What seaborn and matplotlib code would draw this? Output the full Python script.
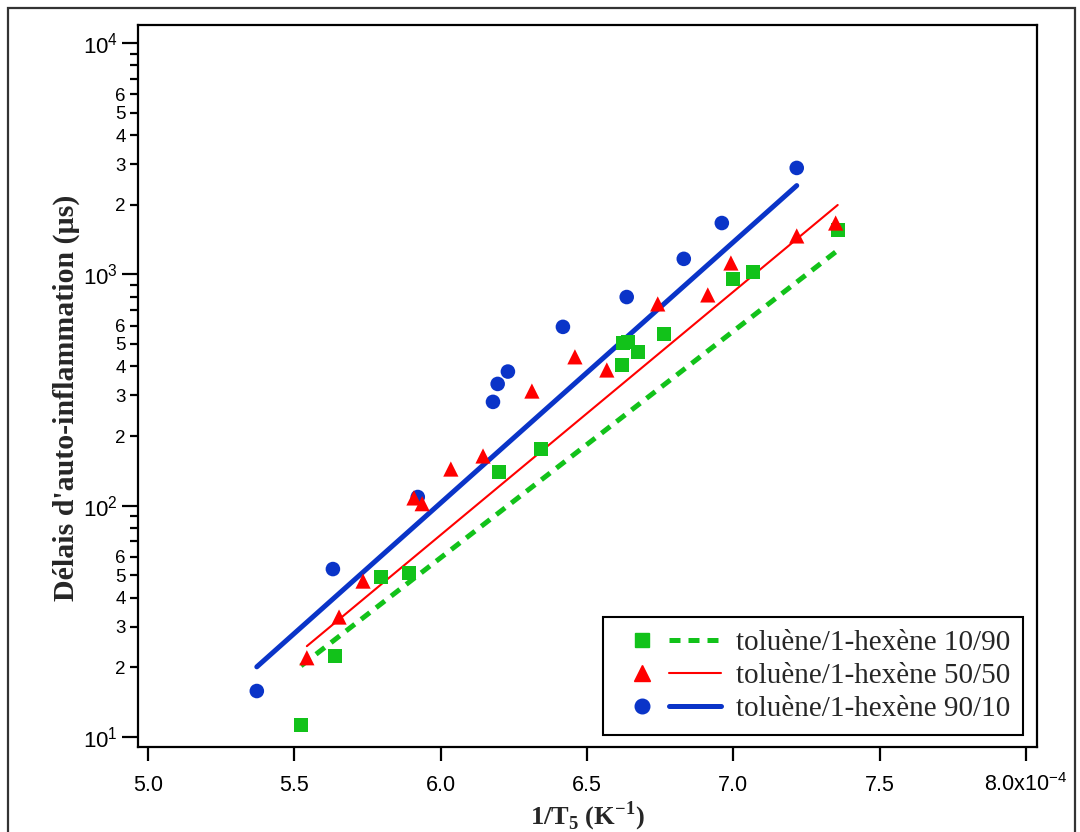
import numpy as np
import pandas as pd
import matplotlib
matplotlib.use("Agg")
import matplotlib.pyplot as plt
import matplotlib.patches as patches
from matplotlib.legend_handler import HandlerTuple
from matplotlib.lines import Line2D
import seaborn as sns

# --- Data (x in 1e-4 K^-1, delay in microseconds) ---
labels = ["toluène/1-hexène 10/90", "toluène/1-hexène 50/50", "toluène/1-hexène 90/10"]

green_x = [5.523, 5.639, 5.796, 5.892, 6.199, 6.343, 6.619, 6.623, 6.640, 6.674, 6.763, 6.999, 7.067, 7.357]
green_y = [11.3, 22.4, 49.2, 51.2, 140, 176, 406, 505, 510, 463, 552, 955, 1024, 1556]

red_x = [5.543, 5.653, 5.735, 5.909, 5.937, 6.035, 6.145, 6.312, 6.459, 6.568, 6.742, 6.913, 6.992, 7.217, 7.350]
red_y = [22.0, 33.0, 47.2, 108, 102, 144, 164, 313, 440, 386, 745, 815, 1120, 1466, 1667]

blue_x = [5.372, 5.632, 5.922, 6.179, 6.195, 6.230, 6.418, 6.636, 6.831, 6.961, 7.217]
blue_y = [15.8, 53.2, 109, 281, 336, 380, 593, 798, 1167, 1667, 2885]

# Arrhenius fit lines (end points)
green_fit_x = [5.523, 7.357]
green_fit_y = [20.3, 1270]
red_fit_x = [5.543, 7.357]
red_fit_y = [24.7, 1995]
blue_fit_x = [5.372, 7.217]
blue_fit_y = [20.1, 2420]

x_ticks = [5.0, 5.5, 6.0, 6.5, 7.0, 7.5, 8.0]
x_ticklabels = ["5.0", "5.5", "6.0", "6.5", "7.0", "7.5", "8.0x10$^{\\mathregular{-4}}$"]

GREEN = "#12C21A"
RED = "#FF0000"
BLUE = "#0A34C8"

sns.set_theme(style="ticks")
plt.rcParams["font.family"] = ["Liberation Sans", "DejaVu Sans"]
plt.rcParams["axes.linewidth"] = 1.6
plt.rcParams["xtick.major.width"] = 1.6
plt.rcParams["ytick.major.width"] = 1.6
plt.rcParams["ytick.minor.width"] = 1.6
plt.rcParams["xtick.color"] = "black"
plt.rcParams["ytick.color"] = "black"

fig = plt.figure(figsize=(10.8, 8.32), dpi=100)
ax = fig.add_axes([138 / 1080, 1 - 747 / 832, (1037 - 138) / 1080, (747 - 25) / 832])

# fit lines
sns.lineplot(x=green_fit_x, y=green_fit_y, ax=ax, color=GREEN, linewidth=3.6,
             linestyle=(0, (2.2, 1.6)), dash_capstyle="butt")
sns.lineplot(x=red_fit_x, y=red_fit_y, ax=ax, color=RED, linewidth=1.5)
sns.lineplot(x=blue_fit_x, y=blue_fit_y, ax=ax, color=BLUE, linewidth=3.6)

# measured points
sns.scatterplot(x=green_x, y=green_y, ax=ax, marker="s", s=100, color=GREEN, edgecolor="none", zorder=3)
sns.scatterplot(x=blue_x, y=blue_y, ax=ax, marker="o", s=110, color=BLUE, edgecolor="none", zorder=3)
sns.scatterplot(x=red_x, y=red_y, ax=ax, marker="^", s=120, color=RED, edgecolor="none", zorder=4)

ax.set_yscale("log")
ax.set_xlim(4.966, 8.038)
ax.set_ylim(9.05, 11970)

# x ticks
ax.set_xticks(x_ticks)
ax.set_xticklabels(x_ticklabels)
ax.tick_params(axis="x", which="major", direction="out", length=10, labelsize=15.5, pad=22)
ax.tick_params(axis="x", which="minor", bottom=False)
for lbl in ax.get_xticklabels():
    lbl.set_verticalalignment("baseline")

# y ticks: decades + minor 2..9, labels only on 2..6
major_y = [10, 100, 1000, 10000]
ax.set_yticks(major_y)
ax.set_yticklabels(["10$^{\\mathregular{%d}}$" % int(np.log10(v)) for v in major_y])
minor_y = []
minor_lab = []
for dec in [10, 100, 1000]:
    for m in range(2, 10):
        minor_y.append(m * dec)
        minor_lab.append(str(m) if m <= 6 else "")
ax.set_yticks(minor_y, minor=True)
ax.set_yticklabels(minor_lab, minor=True)
ax.tick_params(axis="y", which="major", direction="out", length=11.5, labelsize=16, pad=3)
ax.tick_params(axis="y", which="minor", direction="out", length=6, labelsize=13.5, pad=3)

ax.set_xlabel("1/T$_\\mathregular{5}$ (K$^\\mathregular{-1}$)", family="Liberation Serif",
              fontweight="bold", fontsize=19)
ax.xaxis.set_label_coords(0.5, (747 - 800) / 722)
ax.xaxis.label.set_verticalalignment("top")
ax.set_ylabel("Délais d'auto-inflammation (µs)", family="Liberation Serif",
              fontweight="bold", fontsize=21.5)
ax.yaxis.set_label_coords((80 - 138) / 899, 0.483)

for sp in ax.spines.values():
    sp.set_visible(True)
    sp.set_color("black")

# legend: marker + line on one row
handles = [
    (Line2D([], [], marker="s", color=GREEN, linestyle="none", markersize=10),
     Line2D([], [], color=GREEN, linewidth=3.6, linestyle=(0, (2.2, 1.6)), dash_capstyle="butt")),
    (Line2D([], [], marker="^", color=RED, linestyle="none", markersize=11),
     Line2D([], [], color=RED, linewidth=1.5)),
    (Line2D([], [], marker="o", color=BLUE, linestyle="none", markersize=10.5),
     Line2D([], [], color=BLUE, linewidth=3.6)),
]
leg = ax.legend(handles, labels, handler_map={tuple: HandlerTuple(ndivide=None, pad=0)},
                loc="lower right", bbox_to_anchor=(1023 / 1080, 1 - 735 / 832),
                bbox_transform=fig.transFigure, borderaxespad=0, handlelength=3.6,
                handletextpad=0.5, labelspacing=0.22, borderpad=0.45, fancybox=False,
                framealpha=1, edgecolor="black",
                prop={"family": "Liberation Serif", "size": 21})
leg.get_frame().set_linewidth(1.5)

# outer frame around the whole figure
fig.patches.append(patches.Rectangle((8 / 1080, -0.01), (1075 - 8) / 1080, 1.01 - 8 / 832,
                                     transform=fig.transFigure, fill=False,
                                     edgecolor="#333333", linewidth=1.6))

fig.savefig("out.png", dpi=100)
